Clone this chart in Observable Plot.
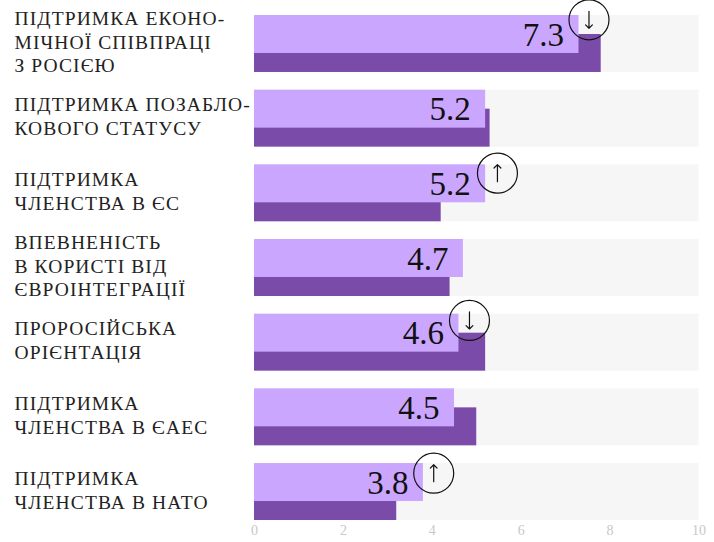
<!DOCTYPE html>
<html><head><meta charset="utf-8">
<script src="https://cdn.jsdelivr.net/npm/d3@7"></script>
<script src="https://cdn.jsdelivr.net/npm/@observablehq/plot@0.6"></script>
<style>html,body{margin:0;padding:0;background:#fff}svg{display:block}.lbl text{letter-spacing:1.1px}</style>
</head><body><div id="c"></div>
<script>
const labels = ["ПІДТРИМКА ЕКОНО-\nМІЧНОЇ СПІВПРАЦІ\nЗ РОСІЄЮ","ПІДТРИМКА ПОЗАБЛО-\nКОВОГО СТАТУСУ","ПІДТРИМКА\nЧЛЕНСТВА В ЄС","ВПЕВНЕНІСТЬ\nВ КОРИСТІ ВІД\nЄВРОІНТЕГРАЦІЇ","ПРОРОСІЙСЬКА\nОРІЄНТАЦІЯ","ПІДТРИМКА\nЧЛЕНСТВА В ЄАЕС","ПІДТРИМКА\nЧЛЕНСТВА В НАТО"];
const current = [7.3,5.2,5.2,4.7,4.6,4.5,3.8];
const previous = [7.8,5.3,4.2,4.4,5.2,5.0,3.2];
const arrows = ["↓","","↑","","↓","","↑"];
const tickValues = [0,2,4,6,8,10];
const rows = labels.map((label,i)=>({label,current:current[i],previous:previous[i],arrow:arrows[i]}));
const serif = "'Liberation Serif', serif";
const badge = (i,dx,dy)=>[
  Plot.dot([rows[i]],{x:"current",y:"label",r:20,stroke:"#111",strokeWidth:1.2,fill:"none",dx,dy}),
  Plot.vector([rows[i]],{x:"current",y:"label",length:17,rotate:d=>d.arrow==="↓"?180:0,anchor:"middle",stroke:"#111",strokeWidth:1.2,dx,dy})
];
const chart = Plot.plot({
  width:714,height:542,marginLeft:254,marginRight:15.5,marginTop:15,marginBottom:22,
  style:{fontFamily:serif,background:"#fff"},
  x:{domain:[0,10],axis:null},
  y:{domain:labels,axis:null,paddingInner:0.237,paddingOuter:0,round:false},
  marks:[
    Plot.barX(rows,{x1:0,x2:10,y:"label",fill:"#f6f6f6"}),
    Plot.barX(rows,{x:"previous",y:"label",fill:"#7a4ba8",insetTop:19}),
    Plot.barX(rows,{x:"current",y:"label",fill:"#cba6ff",insetBottom:19}),
    Plot.text(rows,{x:"current",y:"label",text:d=>d.current.toFixed(1),textAnchor:"end",dx:-15,dy:-9,fontSize:33,fill:"#111"}),
    badge(0,10,-24.2),badge(2,11.8,-20.2),badge(4,10.5,-22.2),badge(6,10.3,-18.8),
    Plot.text(rows,{x:0,y:"label",text:"label",textAnchor:"start",dx:-240,dy:-3,fontSize:19.5,lineHeight:1.22,fill:"#222",className:"lbl"}),
    Plot.text(tickValues,{x:d=>d,frameAnchor:"bottom",dy:14,text:d=>String(d),fontSize:14,fill:"#c8c8c8",textAnchor:d=>d===0?"start":d===10?"end":"middle"})
  ]
});
document.getElementById("c").append(chart);
</script></body></html>
